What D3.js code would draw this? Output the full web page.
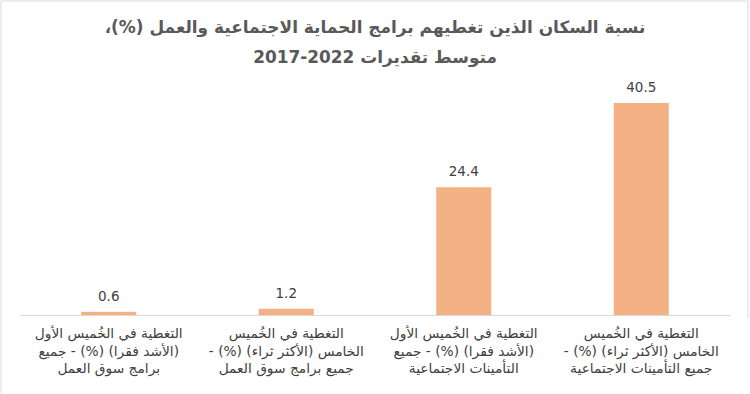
<!DOCTYPE html>
<html><head><meta charset="utf-8">
<script src="https://cdn.jsdelivr.net/npm/d3@7"></script>
<style>
html,body{margin:0;padding:0;background:#fff;}
svg{display:block;}
text{font-family:"DejaVu Sans","Noto Sans",sans-serif;}
</style></head>
<body>
<script>
const titleLines = ["نسبة السكان الذين تغطيهم برامج الحماية الاجتماعية والعمل (%)،", "متوسط تقديرات \u200E2017-2022"];
const categories = ["c1", "c2", "c3", "c4"];
const categoryLabels = [
  ["التغطية في الخُميس الأول", "(الأشد فقرا) (%) - جميع", "برامج سوق العمل"],
  ["التغطية في الخُميس", "الخامس (الأكثر ثراء) (%) -", "جميع برامج سوق العمل"],
  ["التغطية في الخُميس الأول", "(الأشد فقرا) (%) - جميع", "التأمينات الاجتماعية"],
  ["التغطية في الخُميس", "الخامس (الأكثر ثراء) (%) -", "جميع التأمينات الاجتماعية"]
];
const values = [0.6, 1.2, 24.4, 40.5];
const valueLabels = ["0.6", "1.2", "24.4", "40.5"];

const W = 750, H = 394;
const svg = d3.select("body").append("svg").attr("width", W).attr("height", H);

svg.append("path")
  .attr("d", "M1,393 L1,1 L748,1 L748,318")
  .attr("fill", "none").attr("stroke", "#d9d9d9").attr("stroke-width", 1);

const x = d3.scaleBand().domain(categories).range([20, 730]).paddingInner(0.69).paddingOuter(0.345);
const y = d3.scaleLinear().domain([0, 45]).range([315, 79.4]);

// title
const tg = svg.append("g");
const tys = [33, 63];
titleLines.forEach((t, i) => {
  tg.append("text").attr("x", 375).attr("y", tys[i])
    .attr("text-anchor", "middle").attr("direction", "rtl")
    .attr("font-size", 17).attr("font-weight", "bold").attr("fill", "#595959")
    .text(t);
});
const t1 = tg.select("text").node();
const len = t1.getComputedTextLength();
tg.selectAll("text").attr("font-size", 17 * 541 / len);

// axis line
svg.append("line").attr("x1", 20).attr("x2", 730).attr("y1", y(0) + 0.5).attr("y2", y(0) + 0.5)
  .attr("stroke", "#d9d9d9").attr("stroke-width", 1);

// bars
svg.selectAll("rect.bar").data(values).join("rect").attr("class", "bar")
  .attr("x", (d, i) => x(categories[i]))
  .attr("width", x.bandwidth())
  .attr("y", d => y(d))
  .attr("height", d => y(0) - y(d))
  .attr("fill", "#F4B183");

// value labels
svg.selectAll("text.val").data(values).join("text").attr("class", "val")
  .attr("x", (d, i) => x(categories[i]) + x.bandwidth() / 2)
  .attr("y", d => y(d) - 11)
  .attr("text-anchor", "middle").attr("font-size", 13.5).attr("fill", "#404040")
  .text((d, i) => valueLabels[i]);

// category labels
const lys = [338, 356, 373];
categories.forEach((c, i) => {
  categoryLabels[i].forEach((t, j) => {
    svg.append("text").attr("class", "cat")
      .attr("x", x(c) + x.bandwidth() / 2).attr("y", lys[j])
      .attr("text-anchor", "middle").attr("direction", "rtl")
      .attr("font-size", 13).attr("fill", "#404040")
      .text(t);
  });
});
const c1 = svg.select("text.cat").node();
const cl = c1.getComputedTextLength();
svg.selectAll("text.cat").attr("font-size", 13 * 148 / cl);
</script>
</body></html>
